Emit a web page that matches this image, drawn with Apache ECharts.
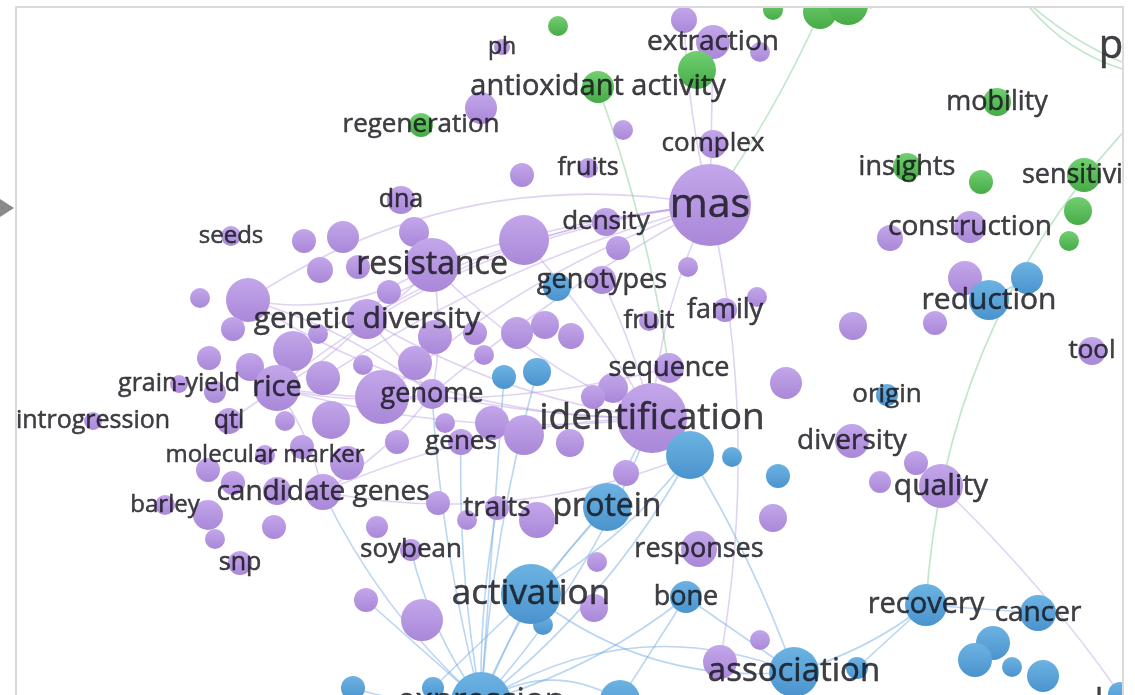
<!DOCTYPE html>
<html>
<head>
<meta charset="utf-8">
<script src="https://cdn.jsdelivr.net/npm/echarts@6/dist/echarts.min.js"></script>
<style>
html,body{margin:0;padding:0;background:#fff;width:1135px;height:695px;overflow:hidden;}
#frame{position:absolute;left:15px;top:6px;width:1105px;height:700px;border:2px solid #dadada;box-sizing:content-box;overflow:hidden;}
#chart{position:absolute;left:0;top:0;width:1105px;height:689px;}
#arrow{position:absolute;left:0;top:199px;width:0;height:0;border-top:9px solid transparent;border-bottom:9px solid transparent;border-left:14px solid #8a8a8a;}
</style>
</head>
<body>
<div id="arrow"></div>
<div id="frame"><div id="chart"></div></div>
<script>
// Labeled terms: [label, x, y, weight, labelSize]
const purpleTerms = [
  ['mas',710,205,41,41],
  ['identification',652,418,35,37],
  ['resistance',432,265,27,32],
  ['genetic diversity',367,319,20,30],
  ['genome',432,394,15,27],
  ['rice',277,388,23,29],
  ['quality',941,486,22,30],
  ['diversity',852,441,17,28],
  ['sequence',669,368,15,27],
  ['candidate genes',323,492,18,28],
  ['genotypes',602,280,14,27],
  ['density',606,222,14,26],
  ['complex',713,144,14,26],
  ['extraction',713,42,17,28],
  ['fruits',588,168,10,25],
  ['fruit',649,321,10,26],
  ['family',725,310,12,27],
  ['dna',401,200,14,25],
  ['seeds',231,236,10,24],
  ['ph',502,47,8,23],
  ['construction',970,227,16,28],
  ['tool',1092,351,14,26],
  ['genes',461,442,13,26],
  ['traits',497,508,12,28],
  ['responses',699,549,18,27],
  ['soybean',411,550,11,26],
  ['snp',240,563,12,25],
  ['barley',165,505,10,24],
  ['molecular marker',265,455,10,24],
  ['qtl',229,421,13,25],
  ['introgression',93,421,9,25],
  ['grain-yield',179,384,9,25]
];
// Unlabeled purple terms: [x, y, weight]
const purpleOthers = [
  [684,20,13],[760,52,10],[481,108,16],[623,130,10],[522,175,12],[524,240,25],[414,232,15],
  [304,241,12],[343,237,16],[618,248,12],[688,267,10],[320,270,13],[358,267,12],[389,292,12],
  [248,300,22],[200,298,10],[233,329,12],[318,334,10],[293,351,20],[209,358,12],[250,367,14],
  [323,378,17],[363,365,10],[215,392,11],[285,421,10],[331,420,19],[382,397,27],[435,337,17],
  [415,363,17],[475,333,12],[517,333,16],[545,325,14],[571,336,13],[484,355,10],[445,423,10],
  [397,442,12],[492,423,17],[524,435,20],[570,443,14],[613,388,15],[593,397,12],[626,473,13],
  [757,297,10],[786,383,16],[773,518,14],[853,326,14],[935,323,12],[890,238,13],[965,278,17],
  [916,463,12],[880,482,11],[302,447,12],[347,463,17],[277,491,14],[233,483,12],[208,470,12],
  [208,515,15],[215,539,10],[274,527,12],[377,527,11],[438,503,12],[467,520,10],[537,520,18],
  [366,600,12],[422,620,21],[597,562,10],[594,608,14],[760,640,10],[720,662,17]
];
const blueTerms = [
  ['protein',607,507,24,32],
  ['activation',531,594,30,35],
  ['bone',686,597,16,27],
  ['association',794,672,25,33],
  ['recovery',926,605,21,29],
  ['cancer',1038,613,18,28],
  ['reduction',989,300,20,30],
  ['origin',887,395,11,26],
  ['expression',481,702,30,33]
];
const blueOthers = [
  [557,287,14],[504,377,12],[537,372,14],[690,455,24],[732,457,10],[778,476,12],[543,625,10],
  [1027,278,16],[857,668,11],[993,643,17],[975,660,17],[1012,667,10],[1043,676,16],
  [353,688,12],[433,688,11],[620,700,20],[1120,694,12]
];
const greenTerms = [
  ['antioxidant activity',598,87,16,29],
  ['regeneration',421,125,12,26],
  ['mobility',997,102,14,27],
  ['insights',907,167,14,27],
  ['sensitivity',1084,175,17,27]
];
const greenOthers = [
  [558,26,10],[697,70,19],[773,10,10],[820,12,17],[848,5,20],[981,182,12],[1078,211,14],
  [1069,241,10],[1175,80,28],[990,-60,20],[1000,-25,15]
];
// Cut-off labels at the frame edges: [text, x, y, labelSize]
const edgeLabels = [
  ['p',1111,47,40],
  ['g',872,-8,30],
  ['l',1099,700,30]
];
// Links: [source, target, curveness]
const purpleLinks = [
  ['p248_300','mas',0.2],['genetic diversity','mas',0.12],['resistance','mas',0.06],
  ['genome','mas',0.05],['rice','mas',0.15],['p382_397','mas',0.1],['p293_351','mas',0.12],
  ['p323_378','mas',0.08],['identification','mas',0.1],['mas','p720_662',0.1],
  ['mas','p684_20',0.05],['mas','extraction',0],
  ['identification','rice',0.1],['identification','genetic diversity',0.1],
  ['identification','resistance',0.1],['identification','genome',0.05],
  ['identification','candidate genes',-0.1],['identification','p248_300',0.15],
  ['genetic diversity','rice',0.1],['genome','rice',0.1],['rice','qtl',0],
  ['rice','candidate genes',0.1],['genome','candidate genes',0.1],
  ['resistance','genetic diversity',0.1],['resistance','genome',0.1],
  ['p248_300','genome',0.1],['p248_300','resistance',-0.2],['genetic diversity','genome',0],
  ['candidate genes','b690_455',-0.15],['quality','b1120_694',0.05],['genotypes','identification',0.05],
  ['p524_240','identification',0.05],['sequence','rice',0.1]
];
const blueLinks = [
  ['expression','activation',0],['expression','protein',0.1],['expression','traits',0.05],
  ['expression','genes',0.05],['expression','soybean',0.1],['expression','identification',-0.1],
  ['expression','b504_377',0],['expression','b537_372',0.05],['expression','genome',0.05],
  ['expression','candidate genes',0.1],['expression','association',0.25],['expression','bone',-0.1],
  ['expression','p366_600',0],['expression','b690_455',-0.1],['expression','b620_700',0.3],
  ['activation','protein',0],['activation','b690_455',-0.1],['activation','association',-0.2],
  ['activation','b543_625',0],['bone','b620_700',0],['bone','association',0],
  ['b690_455','association',0.05],['recovery','association',0.1],['recovery','b857_668',0],
  ['protein','identification',0],['recovery','cancer',0],['reduction','b1027_278',0],
  ['expression','b353_688',0.1],['activation','b433_688',0]
];
const greenLinks = [
  ['antioxidant activity','sequence',0.05],['g1175_80','recovery',-0.2],
  ['g990_-60','g1175_80',-0.3],['g1000_-25','g1175_80',-0.15],['g820_12','mas',0.05]
];

const palette = [
  {top:'#c3a6ea', bottom:'#a988d8', line:'rgba(180,150,225,0.42)'},
  {top:'#6cb3e3', bottom:'#4b93cd', line:'rgba(110,170,225,0.48)'},
  {top:'#72cf72', bottom:'#46ab46', line:'rgba(130,205,150,0.5)'}
];
const prefix = ['p','b','g'];

const nodes = [];
const labels = [];
function fill(c){
  return {type:'linear',x:0,y:0,x2:0,y2:1,colorStops:[
    {offset:0,color:palette[c].top},{offset:1,color:palette[c].bottom}]};
}
function addTerms(list, c){
  list.forEach(t => {
    nodes.push({name:t[0], value:[t[1],t[2]], symbolSize:t[3]*2, itemStyle:{color:fill(c)}});
    labels.push({name:t[0], value:[t[1],t[2]], label:{fontSize:t[4]}});
  });
}
function addOthers(list, c){
  list.forEach(t => {
    nodes.push({name:prefix[c]+t[0]+'_'+t[1], value:[t[0],t[1]], symbolSize:t[2]*2, itemStyle:{color:fill(c)}});
  });
}
addOthers(purpleOthers,0); addTerms(purpleTerms,0);
addOthers(blueOthers,1); addTerms(blueTerms,1);
addOthers(greenOthers,2); addTerms(greenTerms,2);
edgeLabels.forEach(t => labels.push({name:t[0], value:[t[1],t[2]], label:{fontSize:t[3]}}));

const links = [];
[[purpleLinks,0],[blueLinks,1],[greenLinks,2]].forEach(([list,c]) => {
  list.forEach(l => links.push({source:l[0], target:l[1],
    lineStyle:{color:palette[c].line, curveness:l[2]}}));
});

const X0 = 17, Y0 = 8, W = 1105, H = 689;
const chart = echarts.init(document.getElementById('chart'), null, {renderer:'canvas'});
chart.setOption({
  animation:false,
  backgroundColor:'#ffffff',
  grid:{left:0,right:0,top:0,bottom:0},
  xAxis:{type:'value',min:X0,max:X0+W,show:false},
  yAxis:{type:'value',min:Y0,max:Y0+H,inverse:true,show:false},
  series:[
    {
      type:'graph', coordinateSystem:'cartesian2d', silent:true,
      symbol:'circle', data:nodes, links:links,
      lineStyle:{width:1.6, opacity:1},
      label:{show:false}, emphasis:{disabled:true}, z:2
    },
    {
      type:'scatter', silent:true, symbolSize:0, z:10, clip:false,
      itemStyle:{color:'rgba(0,0,0,0)'},
      data:labels,
      label:{show:true, position:'inside', formatter:'{b}', color:'#111016',
             textBorderColor:'#111016', textBorderWidth:0.5,
             fontFamily:'Open Sans', fontWeight:'normal'},
      labelLayout:{hideOverlap:false},
      emphasis:{disabled:true}
    }
  ]
});
</script>
</body>
</html>
